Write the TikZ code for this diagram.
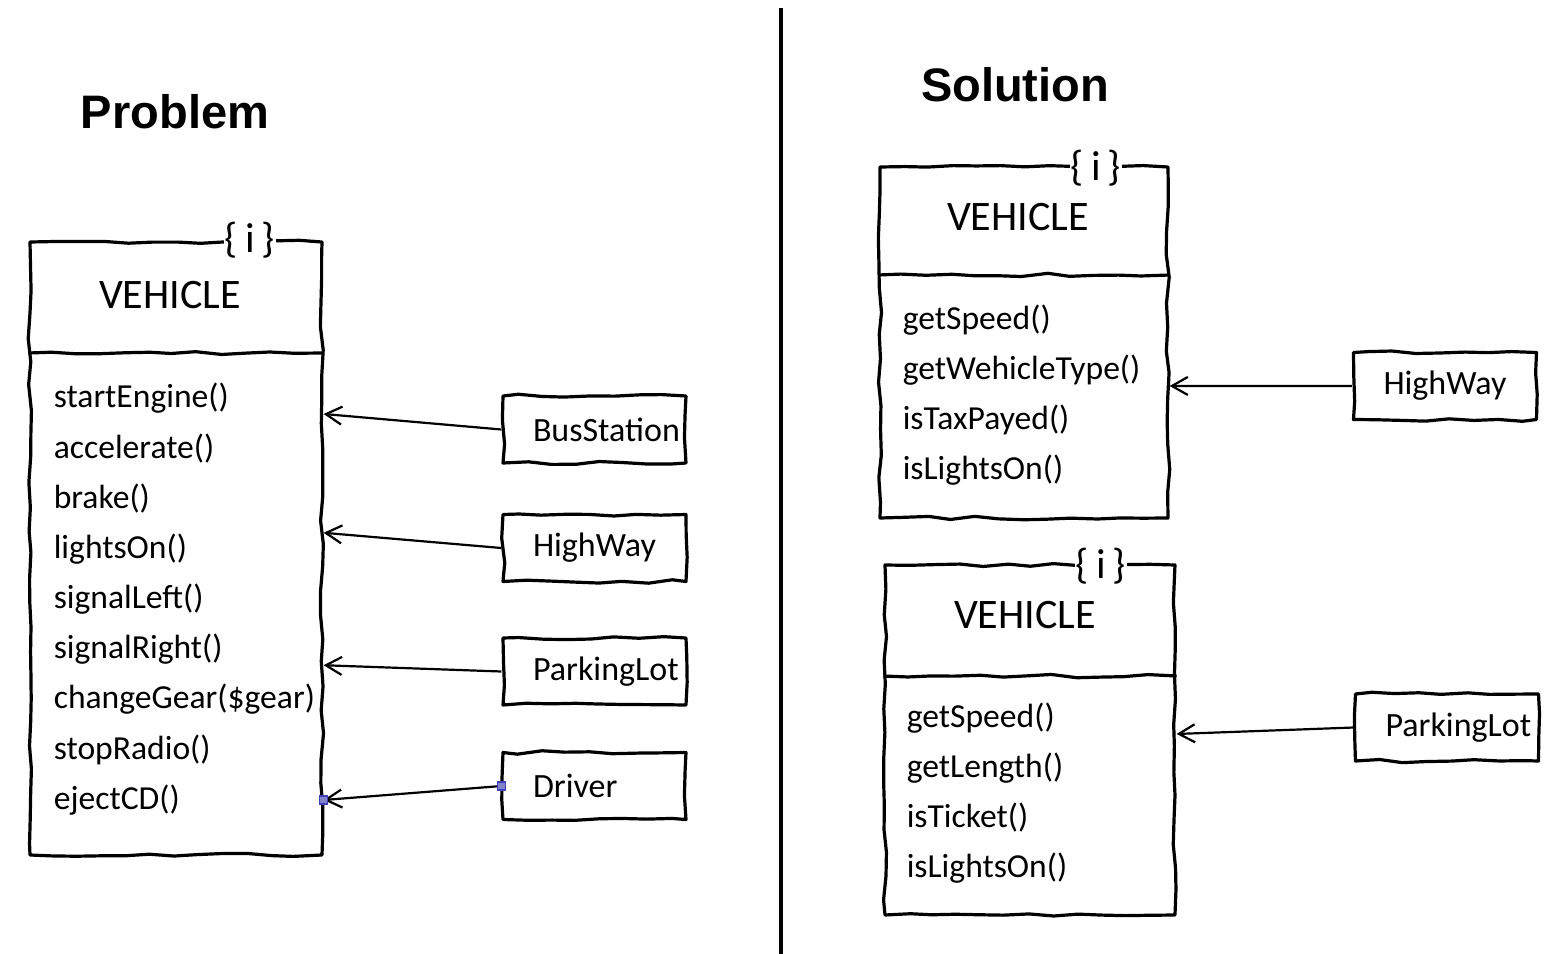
\documentclass[tikz,border=0pt]{standalone}
\usepackage{fontspec}
\newfontfamily\handfont{Carlito}
\newfontfamily\headfont{Liberation Sans}
\usetikzlibrary{arrows.meta,decorations.pathmorphing}
\tikzset{
  sketch/.style={draw, line width=0.8pt, line join=round, decorate, decoration={random steps, segment length=6pt, amplitude=0.45pt}},
  classbox/.style={sketch, rectangle, inner sep=0pt},
  smallbox/.style={sketch, rectangle, minimum height=16.75pt, inner xsep=7.5pt, text width=30.75pt, align=left, font=\handfont\fontsize{8.5}{10}\selectfont},
  member/.style={anchor=west, inner sep=0pt, font=\handfont\fontsize{8.4}{10}\selectfont},
  vtitle/.style={font=\handfont\fontsize{10.5}{12}\selectfont},
  iface/.style={fill=white, inner xsep=0.3pt, inner ysep=0pt, font=\handfont\fontsize{10.5}{12}\selectfont},
  heading/.style={font=\headfont\bfseries\fontsize{11.75}{14}\selectfont},
  usesarrow/.style={line width=0.55pt, -{Straight Barb[length=4pt, width=4.5pt]}},
  grip/.style={draw=blue!50!gray, fill=blue!40!gray!70, minimum size=2pt, inner sep=0pt}
}

\begin{document}
\begin{tikzpicture}[x=0.25pt, y=-0.25pt]
  \useasboundingbox (0,0) rectangle (1568,954);
  \draw[line width=1pt] (781,8) -- (781,954);

  \node[heading] (problem) at (175,112) {Problem};
  \node[heading] (solution) at (1015,85) {Solution};

  \begin{scope}
    \node[classbox, minimum width=73pt, minimum height=153.25pt] (veh) at (176,548.5) {};
    \node[iface] (vehi) at (250,240) {\{\,i\,\}};
    \node[vtitle] (vehname) at (170,295) {VEHICLE};
    \draw[sketch] (veh.west |- 0,353) -- (veh.east |- 0,353);
    \foreach \m [count=\k] in {startEngine(), accelerate(), brake(), lightsOn(), signalLeft(),
                               signalRight(), changeGear(\$gear), stopRadio(), ejectCD()}
      \node[member] (p\k) at (53,{347.75+50.25*\k}) {\m};

    \node[smallbox] (bus) at (594.5,429.5) {BusStation};
    \node[smallbox] (hwy) at (594.5,548) {HighWay};
    \node[smallbox] (park) at (594.5,671.5) {ParkingLot};
    \node[smallbox] (drv) at (594.5,786) {Driver};

    \draw[usesarrow] (bus.west) -- (veh.east |- p1.south);
    \draw[usesarrow] (hwy.west) -- (veh.east |- p4.north);
    \draw[usesarrow] (park.west) -- (veh.east |- p6.south);
    \draw[usesarrow] (drv.west) -- (veh.east |- p9);
    \node[grip] at (drv.west) {};
    \node[grip] at (veh.east |- p9) {};
  \end{scope}

  \begin{scope}
    \node[classbox, minimum width=72pt, minimum height=87.75pt] (vs) at (1024,342.5) {};
    \node[iface] (vsi) at (1096,168) {\{\,i\,\}};
    \node[vtitle] (vsname) at (1018,217) {VEHICLE};
    \draw[sketch] (vs.west |- 0,275) -- (vs.east |- 0,275);
    \foreach \m [count=\k] in {getSpeed(), getWehicleType(), isTaxPayed(), isLightsOn()}
      \node[member] (s\k) at (902,{270+50*\k}) {\m};

    \node[smallbox] (hwy2) at (1445,386) {HighWay};
    \draw[usesarrow] (hwy2.west) -- (vs.east |- s2.south);
  \end{scope}

  \begin{scope}
    \node[classbox, minimum width=72.5pt, minimum height=87.5pt] (vt) at (1030,740) {};
    \node[iface] (vti) at (1101,566) {\{\,i\,\}};
    \node[vtitle] (vtname) at (1025,615) {VEHICLE};
    \draw[sketch] (vt.west |- 0,676) -- (vt.east |- 0,676);
    \foreach \m [count=\k] in {getSpeed(), getLength(), isTicket(), isLightsOn()}
      \node[member] (t\k) at (906,{668+50*\k}) {\m};

    \node[smallbox] (park2) at (1447,727.5) {ParkingLot};
    \draw[usesarrow] (park2.west) -- (vt.east |- t1.south);
  \end{scope}
\end{tikzpicture}
\end{document}
